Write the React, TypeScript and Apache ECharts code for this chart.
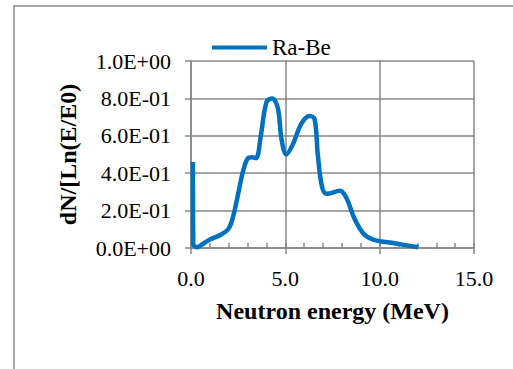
import React, { useEffect, useRef } from "react";
import * as echarts from "echarts";

const energy = [0.1, 0.12, 0.32, 0.6, 1.0, 1.6, 2.0, 2.25, 2.5, 2.77, 3.02, 3.25, 3.45, 3.7, 4.0, 4.3, 4.6, 4.8, 5.05, 5.4, 5.85, 6.28, 6.55, 6.72, 6.95, 7.2, 7.9, 8.25, 8.65, 9.13, 9.66, 10.8, 12.05];
const flux = [0.46, 0.02, 0.004, 0.02, 0.045, 0.072, 0.105, 0.175, 0.29, 0.415, 0.48, 0.485, 0.48, 0.6, 0.78, 0.8, 0.75, 0.58, 0.5, 0.555, 0.665, 0.706, 0.69, 0.5, 0.325, 0.29, 0.306, 0.265, 0.16, 0.078, 0.045, 0.025, 0.004];
const seriesName = "Ra-Be";
const xTitle = "Neutron energy (MeV)";
const yTitle = "dN/[Ln(E/E0)";

const fmtSci = (v: number) => {
  if (v === 0) return "0.0E+00";
  const e = Math.floor(Math.log10(Math.abs(v)) + 1e-9);
  const m = v / Math.pow(10, e);
  const a = Math.abs(e);
  return m.toFixed(1) + "E" + (e < 0 ? "-" : "+") + (a < 10 ? "0" + a : String(a));
};

export default function App() {
  const ref = useRef<HTMLDivElement>(null);
  useEffect(() => {
    if (!ref.current) return;
    const chart = echarts.init(ref.current, undefined, { renderer: "svg" });
    const font = "Liberation Serif";
    const gridColor = "#878787";
    chart.setOption({
      animation: false,
      backgroundColor: "#ffffff",
      textStyle: { fontFamily: font },
      grid: { left: 191, right: 39, top: 61, bottom: 121, containLabel: false },
      legend: {
        left: 212,
        top: 36,
        padding: 0,
        itemWidth: 55,
        itemHeight: 14,
        itemGap: 4,
        icon: "path://M0,5 L55,5 L55,9 L0,9 Z",
        textStyle: { fontFamily: font, fontSize: 23, color: "#000", padding: [0, 0, 0, 0] },
        data: [seriesName],
      },
      graphic: [
        {
          type: "rect",
          shape: { x: 14, y: 6, width: 700, height: 700 },
          style: { fill: "none", stroke: "#8c8c8c", lineWidth: 1.5 },
          silent: true,
        },
      ],
      xAxis: [
        {
          type: "value",
          min: 0,
          max: 15,
          interval: 5,
          name: xTitle,
          nameLocation: "middle",
          nameGap: 51,
          nameTextStyle: { fontFamily: font, fontSize: 24, fontWeight: "bold", color: "#000" },
          axisLine: { show: true, lineStyle: { color: gridColor, width: 1.5 } },
          axisTick: { show: true, inside: false, length: 6, lineStyle: { color: gridColor, width: 1.5 } },
          axisLabel: { formatter: (v: number) => v.toFixed(1), fontFamily: font, fontSize: 22, color: "#000", margin: 19 },
          splitLine: { show: true, lineStyle: { color: gridColor, width: 1.5 } },
        },
        {
          type: "value",
          position: "bottom",
          min: 0,
          max: 15,
          interval: 1,
          axisLine: { show: false },
          axisTick: { show: true, inside: true, length: 5, lineStyle: { color: gridColor, width: 1.5 } },
          axisLabel: { show: false },
          splitLine: { show: false },
        },
      ],
      yAxis: {
        type: "value",
        min: 0,
        max: 1,
        interval: 0.2,
        name: yTitle,
        nameLocation: "middle",
        nameGap: 111,
        nameTextStyle: { fontFamily: font, fontSize: 24, fontWeight: "bold", color: "#000" },
        axisLine: { show: true, lineStyle: { color: gridColor, width: 1.5 } },
        axisTick: { show: true, inside: false, length: 6, lineStyle: { color: gridColor, width: 1.5 } },
        axisLabel: { formatter: fmtSci, fontFamily: font, fontSize: 22, color: "#000", margin: 20 },
        splitLine: { show: true, lineStyle: { color: gridColor, width: 1.5 } },
      },
      series: [
        {
          name: seriesName,
          type: "line",
          xAxisIndex: 0,
          data: energy.map((x, i) => [x, flux[i]]),
          smooth: 0.35,
          symbol: "none",
          lineStyle: { color: "#0070C0", width: 4.5 },
          itemStyle: { color: "#0070C0" },
        },
      ],
    });
    return () => chart.dispose();
  }, []);
  return (
    <div
      ref={ref}
      style={{ position: "fixed", left: 0, top: 0, width: 513, height: 369, background: "#fff" }}
    />
  );
}
